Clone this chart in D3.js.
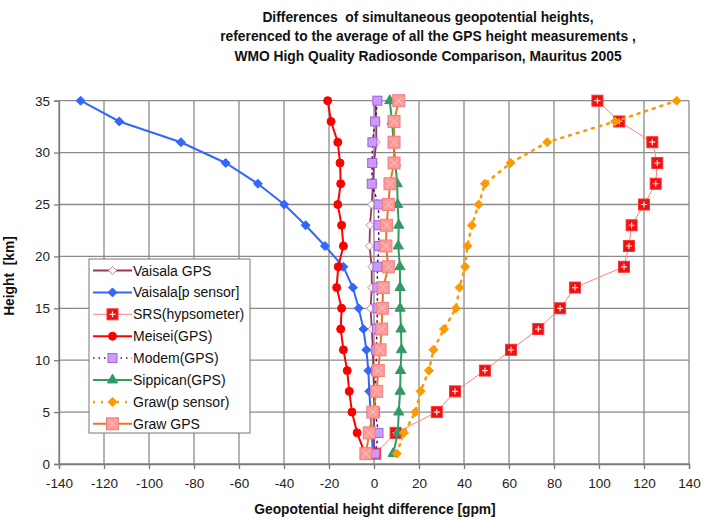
<!DOCTYPE html>
<html><head><meta charset="utf-8">
<script src="https://cdn.jsdelivr.net/npm/d3@7"></script>
<style>
html,body{margin:0;padding:0;background:#fff;}
svg{display:block;font-family:"Liberation Sans",Arial,sans-serif;}
</style></head>
<body>
<svg id="chart" width="701" height="520"></svg>
<script>
const heights = [1,3,5,7,9,11,13,15,17,19,21,23,25,27,29,31,33,35];
const vaisalaGps = [0, 0, 0, 0, -0.3, -0.5, -1.0, -1.5, -1.0, -1.0, -2.0, -1.8, -1.0, -0.5, 0, 1.0, 1.0, 0.5];
const vaisalaP = [-0.5, -1, -1.5, -2.1, -2.5, -3.4, -4.7, -6.8, -9.4, -13.6, -21.8, -30.4, -39.9, -51.6, -65.9, -85.8, -113.2, -130.4];
const srs = [0.5, 9.6, 27.9, 36, 49.3, 60.9, 73, 82.7, 89.3, 111.1, 113.3, 114.5, 120, 125.2, 125.9, 123.7, 109, 99.3];
const meisei = [-4.0, -7.5, -9.8, -11.0, -11.9, -13.6, -14.8, -14.4, -16.6, -15.9, -13.6, -14.4, -16.1, -14.8, -15.1, -16.1, -19.1, -20.6];
const modem = [0.5, 2, 0.5, 0.5, 1, 1, 1.3, 1.5, 1.5, 1.5, 2.2, 2, 2, -1, -0.8, -0.7, 0.5, 1.5];
const sippican = [8.5, 10.6, 11, 11.6, 11.8, 12.2, 12, 11.6, 11.6, 11.5, 10.8, 11, 10.5, 10.3, 9.5, 8.7, 8, 7];
const grawP = [10.1, 13.3, 18.4, 20.7, 24.4, 26.4, 31.1, 36.4, 38, 40.5, 41.5, 43.5, 46.5, 49.3, 60.7, 77, 107.1, 134.5];
const grawGps = [-3.6, -2.1, -0.5, 1.2, 1.9, 2.7, 3.4, 3.7, 4.1, 6.4, 5.3, 5.6, 6.4, 7.1, 8.9, 8.9, 8.9, 11];

const xTicks = [-140,-120,-100,-80,-60,-40,-20,0,20,40,60,80,100,120,140];
const yTicks = [0,5,10,15,20,25,30,35];
const titleLines = ["Differences  of simultaneous geopotential heights,",
  "referenced to the average of all the GPS height measurements ,",
  "WMO High Quality Radiosonde Comparison, Mauritus 2005"];

const seriesNames = ["Vaisala GPS","Vaisala[p sensor]","SRS(hypsometer)","Meisei(GPS)","Modem(GPS)","Sippican(GPS)","Graw(p sensor)","Graw GPS"];
const seriesValues = [vaisalaGps, vaisalaP, srs, meisei, modem, sippican, grawP, grawGps];

const styles = [
  {line:"#993366", w:1.8, dash:null, marker:"diamond", fill:"#ffffff", stroke:"#CC8899", size:4},
  {line:"#3366FF", w:2, dash:null, marker:"diamond", fill:"#3366FF", stroke:"#3366FF", size:4.5},
  {line:"#FF8080", w:1, dash:null, marker:"squarePlus", fill:"#EE1111", stroke:"#FF3333", size:5.5},
  {line:"#FF0000", w:2, dash:null, marker:"circle", fill:"#FF0000", stroke:"#FF0000", size:4},
  {line:"#660066", w:1.5, dash:"1.5,4", marker:"square", fill:"#CC99FF", stroke:"#9966CC", size:4.5},
  {line:"#339966", w:2, dash:null, marker:"triangle", fill:"#339966", stroke:"#339966", size:5},
  {line:"#FF9900", w:2.5, dash:"2,6", marker:"diamond", fill:"#FF9900", stroke:"#FF9900", size:4.5},
  {line:"#E87722", w:2, dash:null, marker:"squareX", fill:"#FF9999", stroke:"#F08080", size:6}
];

const svg = d3.select("#chart");
const x = d3.scaleLinear().domain([-140,140]).range([59,689]);
const y = d3.scaleLinear().domain([0,35]).range([464,100.7]);

// title
svg.append("g").selectAll("text").data(titleLines).join("text")
  .attr("x",428).attr("y",(d,i)=>22+i*19.3).attr("text-anchor","middle")
  .attr("font-size",13.8).attr("font-weight","bold").attr("fill","#111")
  .style("white-space","pre").text(d=>d);

// grid
const grid = svg.append("g");
grid.selectAll("line.v").data(xTicks).join("line").attr("class","v")
  .attr("x1",d=>x(d)).attr("x2",d=>x(d)).attr("y1",y(35)).attr("y2",y(0))
  .attr("stroke","#8a8a8a").attr("stroke-width",1.3);
grid.selectAll("line.h").data(yTicks).join("line").attr("class","h")
  .attr("x1",x(-140)).attr("x2",x(140)).attr("y1",d=>y(d)).attr("y2",d=>y(d))
  .attr("stroke","#8a8a8a").attr("stroke-width",1.3);

// axes
const xAxis = svg.append("g").attr("transform",`translate(0,${y(0)})`)
  .call(d3.axisBottom(x).tickValues(xTicks).tickSize(5).tickPadding(9).tickFormat(d=>String(d)));
const yAxis = svg.append("g").attr("transform",`translate(${x(-140)},0)`)
  .call(d3.axisLeft(y).tickValues(yTicks).tickSize(5).tickPadding(4).tickFormat(d=>String(d)));
[xAxis,yAxis].forEach(a=>{
  a.select(".domain").attr("stroke","#7a7a7a").attr("stroke-width",1.3);
  a.selectAll(".tick line").attr("stroke","#7a7a7a").attr("stroke-width",1.3);
  a.selectAll(".tick text").attr("font-size",13.5).attr("fill","#222")
   .attr("font-family","'Liberation Sans',Arial,sans-serif");
});

// axis titles
svg.append("text").attr("x",375).attr("y",514).attr("text-anchor","middle")
  .attr("font-size",13.8).attr("font-weight","bold").attr("fill","#111")
  .text("Geopotential height difference [gpm]");
svg.append("text").attr("transform","translate(14,276) rotate(-90)").attr("text-anchor","middle")
  .attr("font-size",13.8).attr("font-weight","bold").attr("fill","#111")
  .style("white-space","pre").text("Height  [km]");

function drawMarker(g, type, s, st){
  if(type==="diamond"){
    g.append("path").attr("d",`M0,${-s}L${s},0L0,${s}L${-s},0Z`)
     .attr("fill",st.fill).attr("stroke",st.stroke).attr("stroke-width",1);
  } else if(type==="circle"){
    g.append("circle").attr("r",s).attr("fill",st.fill).attr("stroke",st.stroke);
  } else if(type==="square"){
    g.append("rect").attr("x",-s).attr("y",-s).attr("width",2*s).attr("height",2*s)
     .attr("fill",st.fill).attr("stroke",st.stroke).attr("stroke-width",1);
  } else if(type==="triangle"){
    g.append("path").attr("d",d3.symbol(d3.symbolTriangle, s*s*1.8)())
     .attr("fill",st.fill).attr("stroke",st.stroke);
  } else if(type==="squarePlus"){
    g.append("rect").attr("x",-s).attr("y",-s).attr("width",2*s).attr("height",2*s)
     .attr("fill",st.fill).attr("stroke",st.stroke).attr("stroke-width",1);
    g.append("path").attr("d",`M${-s*0.55},0H${s*0.55}M0,${-s*0.55}V${s*0.55}`)
     .attr("stroke","#ffdddd").attr("stroke-width",1.2);
  } else if(type==="squareX"){
    g.append("rect").attr("x",-s).attr("y",-s).attr("width",2*s).attr("height",2*s)
     .attr("fill",st.fill).attr("stroke",st.stroke).attr("stroke-width",1);
    g.append("path").attr("d",`M${-s*0.6},${-s*0.6}L${s*0.6},${s*0.6}M${s*0.6},${-s*0.6}L${-s*0.6},${s*0.6}`)
     .attr("stroke","#ffc8c8").attr("stroke-width",1);
  }
}

// series
const line = d3.line().x(d=>x(d[0])).y(d=>y(d[1]));
const plot = svg.append("g");
seriesValues.forEach((vals,i)=>{
  const st = styles[i];
  const pts = vals.map((v,j)=>[v,heights[j]]);
  const g = plot.append("g");
  g.append("path").datum(pts).attr("d",line).attr("fill","none")
   .attr("stroke",st.line).attr("stroke-width",st.w)
   .attr("stroke-dasharray",st.dash).attr("stroke-linecap","round");
  pts.forEach(p=>{
    const mg = g.append("g").attr("transform",`translate(${x(p[0])},${y(p[1])})`);
    drawMarker(mg, st.marker, st.size, st);
  });
});

// legend
const lg = svg.append("g");
lg.append("rect").attr("x",89).attr("y",259).attr("width",161).attr("height",174)
  .attr("fill","#fff").attr("stroke","#777").attr("stroke-width",1);
seriesNames.forEach((name,i)=>{
  const st = styles[i];
  const cy = 270.5 + i*21.9;
  const g = lg.append("g");
  g.append("line").attr("x1",93).attr("x2",132).attr("y1",cy).attr("y2",cy)
   .attr("stroke",st.line).attr("stroke-width",st.w).attr("stroke-dasharray",st.dash);
  const mg = g.append("g").attr("transform",`translate(112.5,${cy})`);
  drawMarker(mg, st.marker, st.size, st);
  g.append("text").attr("x",133).attr("y",cy+5).attr("font-size",14).attr("fill","#111").text(name);
});
</script>
</body></html>
